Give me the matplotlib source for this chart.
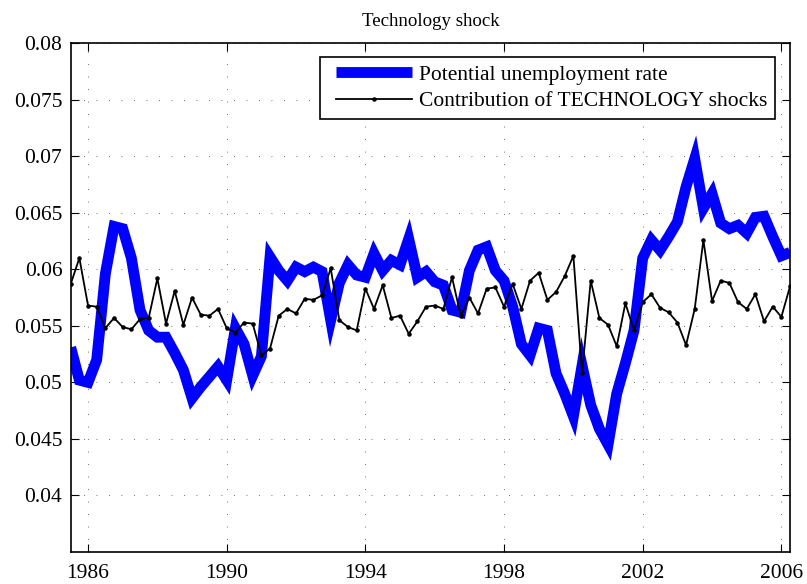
import numpy as np
import matplotlib
matplotlib.use("Agg")
import matplotlib.pyplot as plt
from matplotlib.lines import Line2D
from matplotlib.legend_handler import HandlerLine2D
from matplotlib.ticker import FormatStrFormatter

# quarterly data, 1985Q3 .. 2006Q2
start_year = 1985.5
potential_rate = [
    0.0531, 0.0502, 0.0500, 0.0520, 0.0596, 0.0638, 0.0636, 0.0610, 0.0564, 0.0546,
    0.0540, 0.0540, 0.0526, 0.0511, 0.0486, 0.0496, 0.0505, 0.0514, 0.0502, 0.0548,
    0.0534, 0.0506, 0.0523, 0.0611, 0.0599, 0.0590, 0.0602, 0.0598, 0.0602, 0.0598,
    0.0555, 0.0588, 0.0604, 0.0595, 0.0593, 0.0614, 0.0599, 0.0608, 0.0604, 0.0627,
    0.0593, 0.0598, 0.0589, 0.0586, 0.0564, 0.0562, 0.0599, 0.0617, 0.0620, 0.0599,
    0.0590, 0.0567, 0.0534, 0.0524, 0.0548, 0.0546, 0.0508, 0.0490, 0.0470, 0.0515,
    0.0480, 0.0459, 0.0445, 0.0490, 0.0517, 0.0546, 0.0610, 0.0626, 0.0617, 0.0629,
    0.0642, 0.0673, 0.0698, 0.0654, 0.0667, 0.0641, 0.0636, 0.0639, 0.0632, 0.0646,
    0.0647, 0.0629, 0.0612, 0.0615,
]
technology = [
    0.0587, 0.0610, 0.0568, 0.0567, 0.0548, 0.0557, 0.0549, 0.0547, 0.0556, 0.0557,
    0.0592, 0.0552, 0.0581, 0.0551, 0.0575, 0.0560, 0.0559, 0.0565, 0.0548, 0.0544,
    0.0553, 0.0552, 0.0524, 0.0530, 0.0559, 0.0565, 0.0561, 0.0574, 0.0573, 0.0577,
    0.0601, 0.0555, 0.0549, 0.0546, 0.0583, 0.0565, 0.0586, 0.0557, 0.0559, 0.0543,
    0.0554, 0.0567, 0.0568, 0.0565, 0.0593, 0.0559, 0.0575, 0.0561, 0.0583, 0.0584,
    0.0567, 0.0587, 0.0565, 0.0590, 0.0597, 0.0573, 0.0580, 0.0594, 0.0612, 0.0508,
    0.0590, 0.0557, 0.0551, 0.0532, 0.0570, 0.0546, 0.0571, 0.0578, 0.0566, 0.0562,
    0.0553, 0.0533, 0.0565, 0.0626, 0.0572, 0.0590, 0.0588, 0.0571, 0.0565, 0.0578,
    0.0554, 0.0567, 0.0558, 0.0585,
]
year_ticks = [1986, 1990, 1994, 1998, 2002, 2006]
rate_ticks = [0.04, 0.045, 0.05, 0.055, 0.06, 0.065, 0.07, 0.075, 0.08]

plt.rcParams['font.family'] = ['Liberation Serif', 'DejaVu Serif']

dates = start_year + np.arange(len(potential_rate)) / 4.0

fig = plt.figure(figsize=(8.07, 5.84), dpi=100)
ax = fig.add_axes([0.0876, 0.0548, 0.8914, 0.8711])

ax.plot(dates, potential_rate, color='#0000ff', lw=7.8, solid_joinstyle='miter',
        solid_capstyle='butt', label='Potential unemployment rate')
ax.plot(dates, technology, color='black', lw=1.3, marker='.', markersize=4.5,
        label='Contribution of TECHNOLOGY shocks')

ax.set_xlim(1985.5, 2006.25)
ax.set_ylim(0.035, 0.08)
ax.set_xticks(year_ticks)
ax.set_yticks(rate_ticks)
ax.yaxis.set_major_formatter(FormatStrFormatter('%g'))
ax.tick_params(direction='in', length=5.5, width=0.8, top=True, right=True,
               labelsize=15.5)
ax.tick_params(axis='x', pad=9)
ax.tick_params(axis='y', pad=6)
ax.grid(True, color='0.25', lw=0.6, linestyle=(0, (1, 14)))
for s in ax.spines.values():
    s.set_linewidth(1.2)

ax.set_title('Technology shock', fontsize=13.6, pad=12.5)
# extra space to the left of the legend handles (xpad)
leg = ax.legend(loc='upper right', fontsize=15.5, handlelength=3.9, fancybox=False,
                framealpha=1, edgecolor='black', borderpad=0.35, labelspacing=0.3,
                handletextpad=0.34, bbox_to_anchor=(0.979, 0.973),
                borderaxespad=0.0, handler_map={Line2D: HandlerLine2D(xpad=0.38)})
leg.get_frame().set_linewidth(1.2)

fig.savefig('out.png', dpi=100)
